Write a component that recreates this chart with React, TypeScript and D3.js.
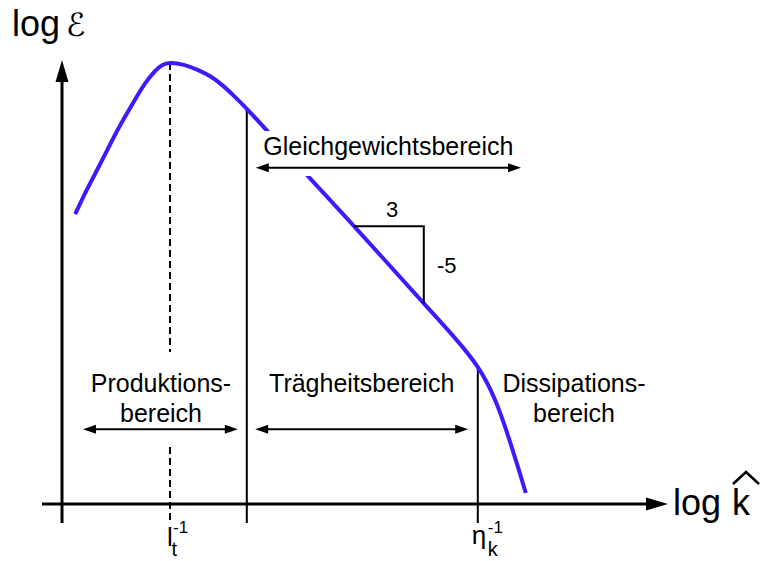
import React from "react";
import * as d3 from "d3";

// Energy spectrum: log E over log k (arbitrary log units)
const logK = [
  0.22, 0.38, 0.55, 0.72, 0.88, 1.05, 1.22, 1.38, 1.55, 1.67, 1.8,
  2.03, 2.27, 2.47, 2.67, 2.87, 3.08, 3.42, 3.75, 4.08, 4.87, 6.03,
  6.55, 6.93, 7.22, 7.42, 7.6, 7.73,
];
const logE = [
  6.59, 7.05, 7.5, 7.95, 8.38, 8.8, 9.2, 9.55, 9.84, 9.97, 10.02,
  9.98, 9.86, 9.72, 9.52, 9.27, 8.98, 8.48, 7.98, 7.48, 6.31, 4.56,
  3.77, 3.11, 2.36, 1.61, 0.84, 0.25,
];

// characteristic wavenumbers (indices into the spectrum arrays)
const peakIndex = 10; // l_t^-1
const productionEndIndex = 16;
const slopeFrom = 20;
const slopeTo = 21;
const kolmogorovIndex = 23; // eta_k^-1

// range annotations
const rangeNames = ["Gleichgewichtsbereich", "Produktionsbereich", "Trägheitsbereich"];
const rangeFrom = [3.23, 0.35, 3.22];
const rangeTo = [7.65, 2.93, 6.77];
const rangeLevel = [7.64, 1.7, 1.7];

const W = 760;
const H = 561;
const FONT = "'Liberation Sans', Arial, Helvetica, sans-serif";
const BLUE = "#3d1aff";

export default function App() {
  const x = d3.scaleLinear().domain([0, 10]).range([62, 662]);
  const y = d3.scaleLinear().domain([0, 10]).range([504, 64]);

  const pts: [number, number][] = logK.map((k, i) => [k, logE[i]]);
  const line = d3
    .line<[number, number]>()
    .x((d) => x(d[0]))
    .y((d) => y(d[1]))
    .curve(d3.curveNatural);

  const x0 = x(0);
  const y0 = y(0);
  const tickBottom = y0 + 19;

  const arrowHead = (tx: number, ty: number, dir: number, len = 13, hw = 4.5) =>
    `M${tx},${ty}L${tx - dir * len},${ty - hw}L${tx - dir * len},${ty + hw}Z`;

  const rangeArrow = (i: number) => {
    const a = x(rangeFrom[i]);
    const b = x(rangeTo[i]);
    const yy = y(rangeLevel[i]);
    return (
      <g key={i}>
        <line x1={a + 8} x2={b - 8} y1={yy} y2={yy} stroke="#000" strokeWidth={2} />
        <path d={arrowHead(a, yy, -1)} fill="#000" />
        <path d={arrowHead(b, yy, 1)} fill="#000" />
      </g>
    );
  };

  const kPeak = logK[peakIndex];
  const kProd = logK[productionEndIndex];
  const kEta = logK[kolmogorovIndex];

  const sx0 = x(logK[slopeFrom]);
  const sx1 = x(logK[slopeTo]);
  const sy0 = y(logE[slopeFrom]);
  const sy1 = y(logE[slopeTo]);

  const geq = 0;
  const labelY = y(rangeLevel[1]) - 37;

  return (
    <svg
      width={W}
      height={H}
      viewBox={`0 0 ${W} ${H}`}
      style={{ position: "absolute", left: 0, top: 0, background: "#fff" }}
      fontFamily={FONT}
    >
      <defs>
        <mask id="curveMask" maskUnits="userSpaceOnUse" x={0} y={0} width={W} height={H}>
          <rect x={0} y={0} width={W} height={H} fill="#fff" />
          <rect x={252} y={131} width={80} height={45} fill="#000" />
        </mask>
      </defs>

      {/* axes */}
      <line x1={42} x2={648} y1={y0} y2={y0} stroke="#000" strokeWidth={3} />
      <path d={`M668,${y0}L646,${y0 - 6.5}L646,${y0 + 6.5}Z`} fill="#000" />
      <line x1={x0} x2={x0} y1={tickBottom} y2={80} stroke="#000" strokeWidth={3} />
      <path d={`M${x0},60L${x0 - 6.5},82L${x0 + 6.5},82Z`} fill="#000" />

      {/* axis titles */}
      <text x={12} y={36} fontSize={36}>log</text>
      <text x={66} y={36} fontSize={32} fontStyle="italic" fontFamily="'DejaVu Serif', 'DejaVu Sans', serif">ℰ</text>
      <text x={673} y={515} fontSize={36}>log</text>
      <text x={732} y={515} fontSize={36}>k</text>
      <path d="M733,484L746,472L759,484" fill="none" stroke="#000" strokeWidth={2.5} />

      {/* dashed marker at the spectral peak */}
      <line x1={x(kPeak)} x2={x(kPeak)} y1={y(logE[peakIndex])} y2={352} stroke="#000" strokeWidth={2} strokeDasharray="7,4" />
      <line x1={x(kPeak)} x2={x(kPeak)} y1={447} y2={tickBottom} stroke="#000" strokeWidth={2} strokeDasharray="7,4" />

      {/* range boundaries */}
      <line x1={x(kProd)} x2={x(kProd)} y1={y(logE[productionEndIndex])} y2={tickBottom} stroke="#000" strokeWidth={2} />
      <line x1={x(kEta)} x2={x(kEta)} y1={y(logE[kolmogorovIndex])} y2={tickBottom} stroke="#000" strokeWidth={2} />

      {/* tick labels */}
      <text x={x(kPeak) - 3} y={546} fontSize={26}>l</text>
      <text x={x(kPeak) + 1.5} y={556} fontSize={20}>t</text>
      <text x={x(kPeak) + 3} y={533} fontSize={17}>-1</text>
      <text x={x(kEta) - 6} y={544} fontSize={26}>η</text>
      <text x={x(kEta) + 10} y={556} fontSize={20}>k</text>
      <text x={x(kEta) + 10} y={533} fontSize={17}>-1</text>

      {/* spectrum */}
      <path d={line(pts) ?? ""} fill="none" stroke={BLUE} strokeWidth={4} mask="url(#curveMask)" />

      {/* -5/3 slope triangle */}
      <path d={`M${sx0},${sy0}L${sx1},${sy0}L${sx1},${sy1}`} fill="none" stroke="#000" strokeWidth={2} />
      <text x={(sx0 + sx1) / 2 + 3} y={sy0 - 9} fontSize={22} textAnchor="middle">3</text>
      <text x={sx1 + 23} y={(sy0 + sy1) / 2 + 8} fontSize={22} textAnchor="middle">-5</text>

      {/* range annotations */}
      {rangeNames.map((_, i) => rangeArrow(i))}
      <text x={(x(rangeFrom[geq]) + x(rangeTo[geq])) / 2} y={y(rangeLevel[geq]) - 13} fontSize={25} textAnchor="middle">
        Gleichgewichtsbereich
      </text>
      <text x={161} y={labelY} fontSize={25} textAnchor="middle">Produktions-</text>
      <text x={161} y={labelY + 30} fontSize={25} textAnchor="middle">bereich</text>
      <text x={(x(rangeFrom[2]) + x(rangeTo[2])) / 2} y={labelY} fontSize={25} textAnchor="middle">
        {rangeNames[2]}
      </text>
      <text x={574} y={labelY} fontSize={25} textAnchor="middle">Dissipations-</text>
      <text x={574} y={labelY + 30} fontSize={25} textAnchor="middle">bereich</text>
    </svg>
  );
}
